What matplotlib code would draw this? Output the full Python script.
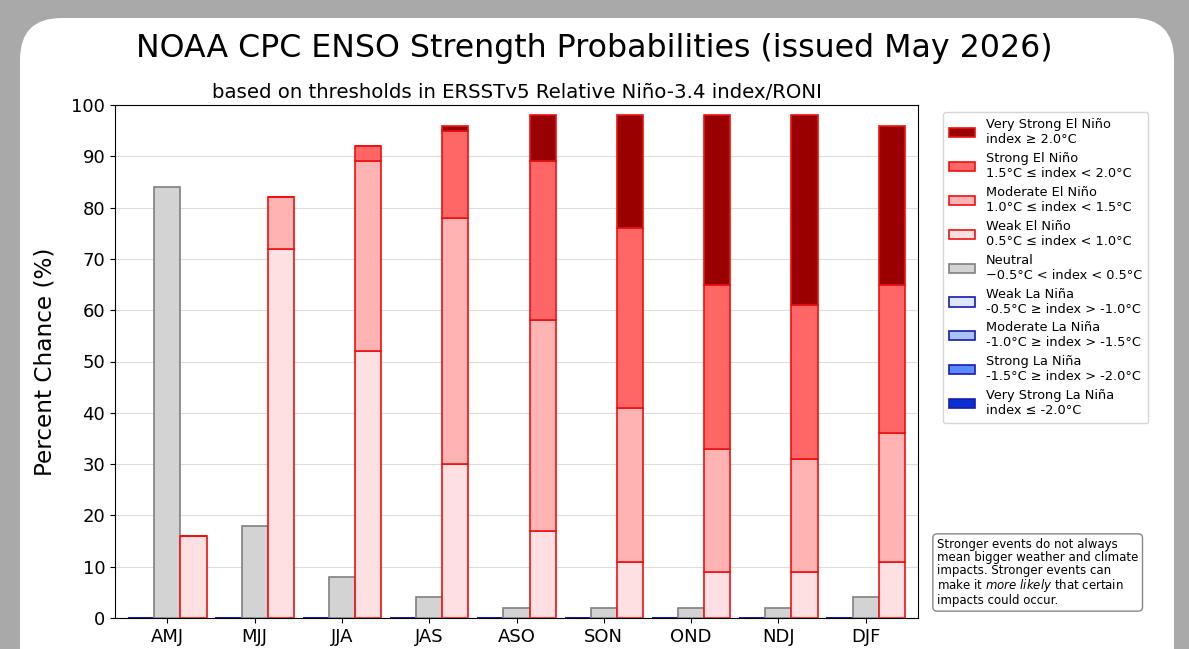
import matplotlib
matplotlib.use("Agg")
import matplotlib.pyplot as plt
from matplotlib.patches import FancyBboxPatch, Patch
import numpy as np

seasons = ["AMJ", "MJJ", "JJA", "JAS", "ASO", "SON", "OND", "NDJ", "DJF"]
neutral = [84, 18, 8, 4, 2, 2, 2, 2, 4]
weak_nino = [16, 72, 52, 30, 17, 11, 9, 9, 11]
mod_nino = [0, 10, 37, 48, 41, 30, 24, 22, 25]
strong_nino = [0, 0, 3, 17, 31, 35, 32, 30, 29]
vstrong_nino = [0, 0, 0, 1, 9, 22, 33, 37, 31]
weak_nina = [0, 0, 0, 0, 0, 0, 0, 0, 0]
mod_nina = [0, 0, 0, 0, 0, 0, 0, 0, 0]
strong_nina = [0, 0, 0, 0, 0, 0, 0, 0, 0]
vstrong_nina = [0, 0, 0, 0, 0, 0, 0, 0, 0]

yticks = list(range(0, 101, 10))

labels = [
    "Very Strong El Niño\nindex ≥ 2.0°C",
    "Strong El Niño\n1.5°C ≤ index < 2.0°C",
    "Moderate El Niño\n1.0°C ≤ index < 1.5°C",
    "Weak El Niño\n0.5°C ≤ index < 1.0°C",
    "Neutral\n−0.5°C < index < 0.5°C",
    "Weak La Niña\n-0.5°C ≥ index > -1.0°C",
    "Moderate La Niña\n-1.0°C ≥ index > -1.5°C",
    "Strong La Niña\n-1.5°C ≥ index > -2.0°C",
    "Very Strong La Niña\nindex ≤ -2.0°C",
]
fcolors = ["#990000", "#ff6666", "#ffb3b3", "#ffe0e2", "#d3d3d3",
           "#dde8ff", "#a8c4f5", "#5b8cff", "#0a2fd0"]
ecolors = ["#ee1111", "#ee1111", "#ee1111", "#ee1111", "#808080",
           "#1a1aaa", "#1a1aaa", "#1a1aaa", "#1a1aaa"]

W, H = 1189, 649
fig = plt.figure(figsize=(W / 100, H / 100), dpi=100)
fig.patch.set_facecolor("#a9a9a9")

card = FancyBboxPatch((20 / W, -0.2), (1174 - 20) / W, (H - 18) / H + 0.2,
                      boxstyle="round,pad=0,rounding_size=0.035",
                      transform=fig.transFigure, facecolor="white",
                      edgecolor="none", mutation_aspect=W / H, zorder=-10)
fig.patches.append(card)

ax = fig.add_axes([115 / W, (H - 618) / H, (918 - 115) / W, (618 - 105) / H])
ax.set_zorder(1)
ax.set_facecolor("white")

x = np.arange(len(seasons))
bw = 0.3
lw = 1.2

# La Nina (left)
bottom = np.zeros(len(seasons))
for vals, fc, ec in zip([weak_nina, mod_nina, strong_nina, vstrong_nina],
                        fcolors[5:], ecolors[5:]):
    ax.bar(x - bw, vals, bw, bottom=bottom, color=fc, edgecolor=ec, linewidth=lw, zorder=3)
    bottom += np.array(vals)

# Neutral
ax.bar(x, neutral, bw, color=fcolors[4], edgecolor=ecolors[4], linewidth=lw, zorder=3)

# El Nino (right)
bottom = np.zeros(len(seasons))
for vals, fc, ec in zip([weak_nino, mod_nino, strong_nino, vstrong_nino],
                        [fcolors[3], fcolors[2], fcolors[1], fcolors[0]],
                        [ecolors[3], ecolors[2], ecolors[1], ecolors[0]]):
    ax.bar(x + bw, vals, bw, bottom=bottom, color=fc, edgecolor=ec, linewidth=lw, zorder=3)
    bottom += np.array(vals)

ax.set_xlim(-0.6, 8.6)
ax.set_ylim(0, 100)
ax.set_yticks(yticks)
ax.set_xticks(x)
ax.set_xticklabels(seasons)
ax.tick_params(axis="both", labelsize=13)
ax.grid(axis="y", color="#dddddd", linewidth=0.8, zorder=0)
ax.set_axisbelow(True)
ax.set_ylabel("Percent Chance (%)", fontsize=16.7, labelpad=11)
ax.set_title("based on thresholds in ERSSTv5 Relative Niño-3.4 index/RONI",
             fontsize=14.2, pad=5)

fig.suptitle("NOAA CPC ENSO Strength Probabilities (issued May 2026)",
             fontsize=22.8, x=0.5, y=(H - 48) / H, va="center")

handles = [Patch(facecolor=fc, edgecolor=ec, linewidth=1.2)
           for fc, ec in zip(fcolors, ecolors)]
leg = fig.legend(handles, labels, loc="upper left",
                 bbox_to_anchor=(943 / W, (H - 112) / H), borderaxespad=0,
                 fontsize=9.3, frameon=True, handlelength=2.0, labelspacing=0.45,
                 borderpad=0.5)
leg.get_frame().set_edgecolor("#cccccc")

note = ("Stronger events do not always\nmean bigger weather and climate\n"
        "impacts. Stronger events can\nmake it $\\it{more\\ likely}$ that certain\n"
        "impacts could occur.")
fig.text(937 / W, (H - 538) / H, note, fontsize=8.5, va="top", ha="left",
         linespacing=1.0,
         bbox=dict(boxstyle="round,pad=0.35", facecolor="white",
                   edgecolor="#888888", linewidth=1))

fig.savefig("out.png", dpi=100, facecolor=fig.get_facecolor())
